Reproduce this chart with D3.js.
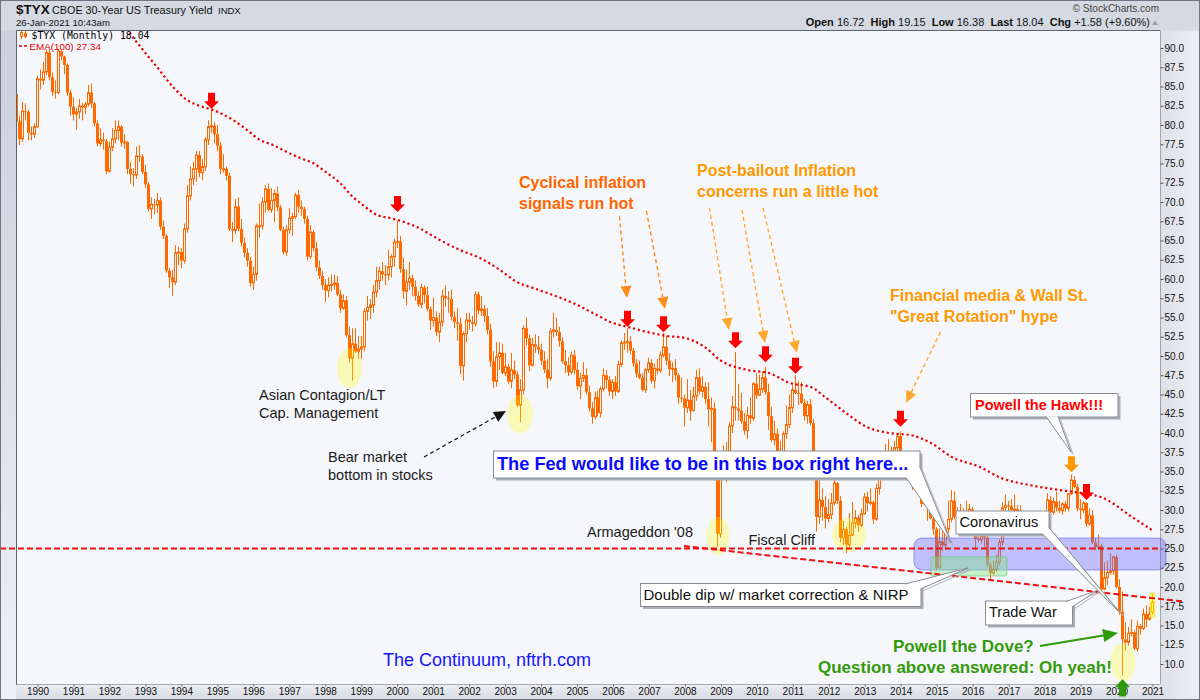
<!DOCTYPE html>
<html>
<head>
<meta charset="utf-8">
<title>$TYX CBOE 30-Year US Treasury Yield</title>
<script src="https://cdn.jsdelivr.net/npm/d3@7/dist/d3.min.js"></script>
<style>
  body { margin: 0; background: #d4d9e2; }
  svg { display: block; font-family: Arial, "Liberation Sans", sans-serif; }
</style>
</head>
<body>
<script>
// frame of the picture
const WIDTH = 1200, HEIGHT = 700;
const PLOT = { left: 16.5, right: 1160, top: 30.5, bottom: 684.5 };
const CANDLE = '#ff6a00', PLOT_BG = '#f6f7fb';

// ---- monthly candles of $TYX (yield x10), first bar = Jun 1989 ----
const FIRST_YEAR = 1989, FIRST_MONTH = 6;
const opens = [
  84.0, 80.4, 78.2, 81.8, 81.7, 79.0, 78.8,
  79.8, 86.0, 85.8, 86.9, 89.4, 86.2, 84.3, 84.2, 89.6, 88.9, 87.8, 84.2,
  82.4, 81.4, 81.7, 82.5, 82.3, 82.7, 84.2, 82.8, 80.2, 77.6, 78.1, 77.9,
  74.0, 77.1, 78.2, 79.3, 79.8, 77.7, 77.8, 74.3, 73.6, 73.5, 76.0, 75.9,
  73.9, 72.3, 69.1, 69.7, 69.6, 70.2, 66.8, 65.6, 61.1, 60.2, 59.6, 63.4,
  63.5, 62.4, 66.5, 70.8, 73.0, 74.3, 76.1, 73.8, 74.6, 78.1, 79.8, 79.9,
  78.8, 77.3, 74.3, 74.3, 73.4, 66.5, 66.3, 69.4, 66.5, 64.7, 63.4, 62.4,
  59.5, 60.6, 66.9, 66.9, 70.0, 71.7, 69.0, 70.2, 71.1, 69.3, 66.4, 63.5,
  66.4, 67.9, 68.1, 70.9, 69.4, 69.1, 67.8, 62.9, 66.1, 64.0, 61.5, 60.4,
  59.2, 58.5, 59.2, 59.3, 59.5, 58.0, 56.2, 57.2, 52.7, 49.7, 51.6, 50.6,
  50.9, 51.2, 55.8, 56.3, 56.6, 58.3, 59.8, 61.0, 60.6, 60.5, 61.6, 62.9,
  64.8, 64.9, 61.3, 58.4, 59.6, 60.1, 59.0, 57.8, 56.7, 58.9, 57.9, 56.1,
  54.6, 55.0, 53.1, 54.4, 57.8, 57.5, 57.4, 55.1, 54.4, 54.2, 48.7, 52.9,
  54.7, 54.4, 54.2, 58.0, 55.9, 56.1, 55.2, 53.4, 49.3, 46.7, 49.9, 50.4,
  47.8, 48.6, 46.7, 48.2, 47.6, 43.6, 45.6, 53.6, 52.3, 48.8, 51.5, 51.2,
  50.8, 49.4, 48.2, 47.1, 53.2, 53.4, 53.1, 51.9, 49.3, 48.8, 47.9, 50.1,
  48.2, 46.1, 47.1, 47.5, 45.3, 43.2, 42.1, 44.6, 42.6, 45.7, 47.5, 46.9,
  45.4, 46.6, 45.4, 48.9, 51.7, 51.8, 51.9, 50.7, 49.0, 47.7, 47.2, 45.6,
  48.2, 49.1, 46.8, 48.4, 48.1, 50.1, 51.2, 49.4, 48.3, 48.4, 47.5, 44.6,
  44.5, 43.3, 44.3, 42.9, 44.8, 47.2, 45.4, 46.0, 44.4, 43.1, 43.2, 34.4,
  26.9, 35.9, 37.1, 35.6, 40.9, 43.4, 43.2, 42.9, 41.5, 40.3, 42.3, 41.9,
  46.4, 44.9, 45.7, 47.2, 45.3, 42.2, 39.1, 39.9, 35.2, 36.9, 39.9, 41.1,
  43.3, 45.6, 45.2, 45.1, 43.9, 42.2, 43.7, 41.3, 36.0, 29.1, 31.3, 30.4,
  28.9, 29.4, 30.9, 33.5, 31.2, 26.4, 27.5, 25.5, 26.7, 28.3, 29.0, 28.0,
  29.5, 31.7, 30.9, 31.0, 28.8, 32.8, 35.0, 36.4, 37.0, 36.8, 36.3, 38.1,
  39.6, 36.0, 35.9, 35.6, 34.6, 33.3, 33.6, 33.1, 30.8, 32.0, 30.6, 28.9,
  27.5, 22.5, 25.9, 25.4, 27.5, 28.8, 31.2, 29.1, 29.5, 28.5, 29.2, 29.8,
  30.1, 27.5, 26.2, 26.1, 26.6, 26.4, 22.9, 21.8, 22.3, 23.2, 25.8, 30.3,
  30.6, 30.5, 30.0, 30.1, 29.6, 28.7, 28.4, 29.0, 27.3, 28.6, 28.8, 28.3,
  27.4, 29.5, 31.3, 29.7, 31.1, 30.3, 29.9, 30.8, 30.2, 32.1, 33.9, 33.0,
  30.2, 30.0, 30.9, 28.2, 29.3, 25.8, 25.2, 25.3, 19.7, 21.2, 21.9, 22.1,
  23.9, 20.0, 16.8, 13.2, 12.8, 14.0, 14.1, 12.0, 14.9, 14.6, 16.5, 15.8,
  16.72
];
const highs = [
  85.4, 81.2, 83.0, 82.8, 82.0, 79.8, 80.2,
  86.4, 87.2, 88.2, 89.8, 89.8, 86.8, 85.8, 89.9, 89.7, 89.0, 88.0, 84.6,
  83.6, 82.2, 83.4, 82.9, 83.0, 85.2, 85.4, 83.0, 80.6, 79.6, 79.0, 78.2,
  77.8, 79.6, 80.6, 80.6, 80.0, 78.8, 77.9, 75.2, 74.4, 77.2, 77.4, 76.2,
  74.8, 72.6, 70.6, 70.4, 71.2, 70.6, 67.6, 65.8, 61.4, 61.2, 64.4, 64.2,
  64.0, 67.2, 72.2, 74.6, 75.2, 76.6, 76.6, 75.6, 78.4, 80.6, 81.9, 80.4,
  80.0, 77.8, 76.2, 74.6, 73.8, 67.4, 70.4, 70.6, 67.8, 65.4, 64.0, 62.8,
  61.6, 67.2, 69.8, 70.6, 72.2, 72.4, 71.8, 71.6, 72.0, 69.6, 66.8, 67.0,
  69.2, 68.6, 71.2, 71.6, 70.2, 69.4, 68.2, 67.0, 66.4, 64.8, 62.4, 61.0,
  60.0, 60.2, 60.6, 60.6, 60.4, 58.6, 58.0, 57.8, 53.8, 53.6, 53.6, 52.6,
  52.6, 56.2, 57.8, 57.4, 59.2, 61.6, 61.6, 62.2, 61.8, 63.8, 63.2, 65.2,
  67.6, 65.6, 62.8, 61.2, 62.2, 60.6, 59.8, 58.4, 59.4, 59.2, 59.0, 56.4,
  57.6, 55.8, 55.6, 58.6, 59.2, 58.4, 58.6, 55.8, 56.2, 55.0, 53.2, 55.6,
  55.6, 55.2, 58.4, 58.4, 57.8, 56.6, 56.2, 54.2, 50.6, 51.8, 51.8, 51.6,
  50.4, 49.0, 50.4, 49.4, 48.0, 47.0, 54.0, 55.0, 52.8, 52.4, 52.8, 52.6,
  51.6, 50.6, 49.6, 53.6, 55.6, 55.0, 53.8, 52.4, 50.8, 49.8, 50.6, 50.8,
  49.2, 47.8, 49.2, 48.4, 46.2, 44.0, 45.4, 45.4, 46.0, 48.4, 48.2, 47.4,
  47.0, 47.4, 49.4, 52.0, 53.0, 53.6, 52.6, 51.0, 49.6, 49.4, 47.8, 48.4,
  49.8, 49.6, 49.0, 49.6, 50.6, 53.0, 52.6, 50.4, 49.2, 49.6, 47.8, 47.2,
  45.0, 47.0, 45.6, 46.0, 48.2, 48.4, 47.4, 46.6, 46.6, 44.6, 44.0, 34.8,
  36.4, 38.4, 38.8, 41.4, 44.8, 50.5, 46.4, 45.2, 42.6, 43.4, 44.6, 46.6,
  47.8, 47.6, 48.0, 48.6, 46.4, 43.4, 41.6, 40.6, 39.0, 40.2, 43.6, 45.0,
  46.2, 47.5, 46.8, 46.6, 44.4, 44.2, 44.4, 41.8, 36.4, 34.0, 32.8, 31.8,
  31.4, 32.2, 34.2, 33.6, 31.8, 28.6, 27.8, 29.6, 31.0, 30.0, 29.4, 30.2,
  32.2, 32.4, 32.8, 31.2, 33.4, 36.2, 37.2, 38.6, 39.2, 38.2, 39.0, 39.9,
  40.2, 37.6, 37.6, 36.8, 34.8, 35.2, 34.4, 33.4, 33.2, 32.4, 31.4, 29.8,
  27.8, 27.6, 27.8, 27.8, 31.2, 32.6, 32.4, 30.4, 30.8, 30.2, 31.2, 30.8,
  30.4, 28.4, 28.0, 27.6, 27.0, 26.6, 23.2, 23.4, 24.2, 26.2, 31.0, 32.0,
  31.2, 31.4, 32.0, 30.6, 30.6, 28.8, 29.6, 29.2, 28.8, 29.4, 29.2, 28.8,
  29.8, 32.2, 31.8, 31.6, 32.4, 31.2, 31.0, 31.2, 32.2, 34.6, 34.4, 33.4,
  31.4, 31.2, 31.0, 30.2, 30.0, 26.4, 26.8, 25.6, 23.2, 23.4, 24.4, 24.0,
  24.2, 21.0, 19.4, 15.4, 14.8, 15.8, 14.4, 15.6, 15.2, 17.2, 17.6, 17.4,
  19.15
];
const lows = [
  79.6, 77.4, 77.8, 80.6, 78.0, 78.0, 78.3,
  79.6, 84.6, 85.2, 86.5, 85.8, 83.8, 83.4, 84.0, 88.4, 86.6, 83.8, 81.2,
  80.6, 79.4, 80.8, 80.6, 81.4, 82.4, 82.2, 79.8, 77.2, 77.2, 76.8, 73.6,
  73.8, 76.6, 77.6, 78.0, 77.2, 76.9, 73.6, 72.4, 72.0, 73.0, 75.2, 73.6,
  71.8, 68.8, 67.8, 68.4, 68.6, 66.4, 65.2, 60.8, 58.8, 57.8, 59.2, 61.8,
  61.4, 62.0, 66.0, 70.2, 72.2, 72.6, 73.2, 72.8, 74.0, 77.4, 79.0, 77.6,
  76.6, 73.6, 73.8, 72.8, 66.2, 64.8, 65.8, 66.2, 64.2, 62.8, 61.6, 59.0,
  58.6, 59.8, 65.4, 66.4, 68.6, 68.8, 68.6, 67.4, 68.8, 66.2, 63.2, 63.0,
  65.8, 65.6, 67.8, 68.6, 68.2, 67.2, 62.4, 62.6, 63.6, 61.0, 60.0, 58.6,
  57.0, 57.6, 58.4, 58.6, 57.8, 55.6, 56.0, 52.4, 49.2, 46.8, 50.4, 49.6,
  49.6, 50.6, 54.6, 54.8, 55.6, 57.6, 58.6, 59.8, 59.2, 59.8, 60.2, 61.6,
  64.0, 60.8, 57.4, 56.6, 58.6, 57.8, 57.2, 56.4, 56.2, 56.8, 55.8, 53.4,
  53.8, 52.6, 51.8, 53.8, 56.4, 55.6, 54.6, 53.6, 52.0, 47.6, 46.8, 51.8,
  53.4, 53.2, 53.8, 55.4, 55.2, 54.4, 52.8, 48.6, 45.8, 46.0, 48.2, 47.6,
  47.4, 46.4, 45.8, 47.0, 43.4, 41.4, 45.0, 51.4, 48.0, 48.6, 50.4, 50.2,
  48.8, 47.8, 45.8, 46.8, 52.4, 52.6, 51.2, 49.0, 47.8, 47.4, 47.6, 47.6,
  45.6, 44.4, 46.6, 45.0, 42.8, 41.2, 41.8, 42.2, 42.0, 45.4, 45.8, 44.8,
  44.4, 44.8, 45.2, 48.6, 50.8, 50.4, 50.2, 48.6, 47.2, 47.0, 45.4, 45.2,
  47.8, 46.4, 45.8, 47.6, 47.8, 49.8, 48.8, 47.4, 46.6, 46.8, 43.8, 44.0,
  40.8, 42.6, 41.6, 42.8, 44.2, 45.0, 44.6, 43.8, 40.8, 38.8, 33.8, 25.2,
  26.4, 34.4, 33.6, 35.2, 40.0, 41.6, 41.6, 41.2, 39.8, 39.2, 41.2, 41.6,
  44.4, 44.8, 45.2, 45.0, 40.4, 38.8, 38.4, 34.6, 34.8, 36.0, 39.2, 40.6,
  42.6, 45.0, 43.6, 43.8, 41.6, 41.2, 41.0, 34.2, 27.2, 28.2, 28.6, 27.6,
  28.4, 28.8, 30.6, 30.8, 25.8, 25.4, 24.4, 25.2, 26.6, 27.6, 27.2, 27.8,
  29.4, 29.8, 30.6, 28.2, 28.6, 32.0, 34.2, 35.8, 36.2, 35.6, 36.0, 37.4,
  35.8, 35.2, 35.2, 34.2, 32.6, 33.0, 32.0, 30.4, 30.6, 28.6, 28.8, 26.8,
  22.2, 22.4, 24.6, 24.8, 26.8, 28.4, 28.8, 27.2, 28.4, 27.8, 29.0, 28.6,
  27.0, 24.8, 25.8, 25.6, 25.2, 22.6, 20.9, 21.6, 22.0, 22.8, 25.4, 29.4,
  29.6, 29.6, 29.6, 28.6, 28.6, 27.2, 28.2, 27.0, 26.6, 28.0, 27.4, 26.8,
  27.2, 29.2, 29.6, 29.4, 29.8, 29.6, 29.4, 29.8, 29.8, 32.0, 32.8, 29.8,
  28.8, 29.6, 27.8, 28.0, 25.6, 24.8, 25.0, 19.0, 19.6, 20.2, 21.6, 21.6,
  19.8, 16.4, 8.5, 11.8, 12.4, 13.6, 11.8, 11.6, 13.8, 14.4, 14.8, 15.6,
  16.38
];
const closes = [
  80.4, 78.2, 81.8, 81.7, 79.0, 78.8, 79.8,
  86.0, 85.8, 86.9, 89.4, 86.2, 84.3, 84.2, 89.6, 88.9, 87.8, 84.2, 82.4,
  81.4, 81.7, 82.5, 82.3, 82.7, 84.2, 82.8, 80.2, 77.6, 78.1, 77.9, 74.0,
  77.1, 78.2, 79.3, 79.8, 77.7, 77.8, 74.3, 73.6, 73.5, 76.0, 75.9, 73.9,
  72.3, 69.1, 69.7, 69.6, 70.2, 66.8, 65.6, 61.1, 60.2, 59.6, 63.4, 63.5,
  62.4, 66.5, 70.8, 73.0, 74.3, 76.1, 73.8, 74.6, 78.1, 79.8, 79.9, 78.8,
  77.3, 74.3, 74.3, 73.4, 66.5, 66.3, 69.4, 66.5, 64.7, 63.4, 62.4, 59.5,
  60.6, 66.9, 66.9, 70.0, 71.7, 69.0, 70.2, 71.1, 69.3, 66.4, 63.5, 66.4,
  67.9, 68.1, 70.9, 69.4, 69.1, 67.8, 62.9, 66.1, 64.0, 61.5, 60.4, 59.2,
  58.5, 59.2, 59.3, 59.5, 58.0, 56.2, 57.2, 52.7, 49.7, 51.6, 50.6, 50.9,
  51.2, 55.8, 56.3, 56.6, 58.3, 59.8, 61.0, 60.6, 60.5, 61.6, 62.9, 64.8,
  64.9, 61.3, 58.4, 59.6, 60.1, 59.0, 57.8, 56.7, 58.9, 57.9, 56.1, 54.6,
  55.0, 53.1, 54.4, 57.8, 57.5, 57.4, 55.1, 54.4, 54.2, 48.7, 52.9, 54.7,
  54.4, 54.2, 58.0, 55.9, 56.1, 55.2, 53.4, 49.3, 46.7, 49.9, 50.4, 47.8,
  48.6, 46.7, 48.2, 47.6, 43.6, 45.6, 53.6, 52.3, 48.8, 51.5, 51.2, 50.8,
  49.4, 48.2, 47.1, 53.2, 53.4, 53.1, 51.9, 49.3, 48.8, 47.9, 50.1, 48.2,
  46.1, 47.1, 47.5, 45.3, 43.2, 42.1, 44.6, 42.6, 45.7, 47.5, 46.9, 45.4,
  46.6, 45.4, 48.9, 51.7, 51.8, 51.9, 50.7, 49.0, 47.7, 47.2, 45.6, 48.2,
  49.1, 46.8, 48.4, 48.1, 50.1, 51.2, 49.4, 48.3, 48.4, 47.5, 44.6, 44.5,
  43.3, 44.3, 42.9, 44.8, 47.2, 45.4, 46.0, 44.4, 43.1, 43.2, 34.4, 26.9,
  35.9, 37.1, 35.6, 40.9, 43.4, 43.2, 42.9, 41.5, 40.3, 42.3, 41.9, 46.4,
  44.9, 45.7, 47.2, 45.3, 42.2, 39.1, 39.9, 35.2, 36.9, 39.9, 41.1, 43.3,
  45.6, 45.2, 45.1, 43.9, 42.2, 43.7, 41.3, 36.0, 29.1, 31.3, 30.4, 28.9,
  29.4, 30.9, 33.5, 31.2, 26.4, 27.5, 25.5, 26.7, 28.3, 29.0, 28.0, 29.5,
  31.7, 30.9, 31.0, 28.8, 32.8, 35.0, 36.4, 37.0, 36.8, 36.3, 38.1, 39.6,
  36.0, 35.9, 35.6, 34.6, 33.3, 33.6, 33.1, 30.8, 32.0, 30.6, 28.9, 27.5,
  22.5, 25.9, 25.4, 27.5, 28.8, 31.2, 29.1, 29.5, 28.5, 29.2, 29.8, 30.1,
  27.5, 26.2, 26.1, 26.6, 26.4, 22.9, 21.8, 22.3, 23.2, 25.8, 30.3, 30.6,
  30.5, 30.0, 30.1, 29.6, 28.7, 28.4, 29.0, 27.3, 28.6, 28.8, 28.3, 27.4,
  29.5, 31.3, 29.7, 31.1, 30.3, 29.9, 30.8, 30.2, 32.1, 33.9, 33.0, 30.2,
  30.0, 30.9, 28.2, 29.3, 25.8, 25.2, 25.3, 19.7, 21.2, 21.9, 22.1, 23.9,
  20.0, 16.8, 13.2, 12.8, 14.0, 14.1, 12.0, 14.9, 14.6, 16.5, 15.8, 16.46,
  18.04
];

// EMA(100): decimal year / value
const emaYears = [1992.35, 1992.516, 1992.933, 1993.322, 1993.767, 1994.156, 1994.601, 1994.879, 1995.435, 1995.824,
  1996.186, 1996.547, 1996.936, 1997.298, 1997.659, 1998.048, 1998.410, 1998.771, 1999.049, 1999.438,
  1999.800, 2000.551, 2001.190, 2001.746, 2002.302, 2002.858, 2003.331, 2003.776, 2004.332, 2004.888,
  2005.444, 2006.000, 2006.417, 2006.946, 2007.502, 2008.002, 2008.586, 2008.975, 2009.753, 2010.337,
  2010.921, 2011.505, 2011.894, 2012.478, 2013.062, 2013.674, 2014.258, 2014.841, 2015.425, 2016.204,
  2016.788, 2017.566, 2018.400, 2019.180, 2019.540, 2020.460, 2021.000];
const emaValues = [93.7, 92.34, 89.74, 87.53, 84.94, 83.25, 82.34, 81.95, 80.65, 79.35,
  78.05, 77.40, 76.49, 75.71, 75.06, 73.77, 72.47, 70.65, 69.61, 68.31,
  67.92, 66.75, 65.06, 63.77, 62.73, 61.17, 59.61, 58.83, 57.92, 56.88,
  55.58, 54.29, 53.77, 53.12, 52.60, 52.34, 51.04, 49.48, 48.18, 47.79,
  46.49, 45.97, 44.68, 42.60, 40.78, 40.00, 39.74, 38.70, 36.88, 35.58,
  34.16, 33.25, 32.60, 32.08, 31.73, 29.0, 27.34];

const yearTicks = d3.range(1990, 2022);
const yTicks = d3.range(10, 90.01, 2.5);

// drawn annotations pinned to the data
const redArrowMonths = ['1994-11', '2000-01', '2006-06', '2007-06', '2009-06', '2010-04', '2011-02', '2014-01', '2019-03'];
const redArrowTips = [82.1, 68.7, 53.8, 53.1, 51.0, 49.2, 47.7, 40.8, 31.3];
const hawkArrowMonth = '2018-10', hawkArrowTip = 34.9;
const doveArrowMonth = '2020-03';
const circleYears = [1998.674, 2003.414, 2008.919, 2012.561, 2020.178];
const circleValues = [48.44, 42.47, 26.62, 26.75, 10.26];
const fedZone = { from: 2014.368, to: 2021.374, low: 22.21, high: 26.36 };
const dipZone = { from: 2014.84, to: 2016.953, low: 21.43, high: 23.90 };
const supportLevel = 25.0;
const trendFrom = [2007.973, 25.32], trendTo = [2021.846, 18.12];

const quote = [['Open', '16.72'], ['High', '19.15'], ['Low', '16.38'], ['Last', '18.04'], ['Chg', '+1.58 (+9.60%)']];

// ---- scales ----
const monthPos = s => { const [yy, mm] = s.split('-').map(Number); return yy + (mm - 1) / 12; };
const x = d3.scaleLinear().domain([1990, 2021]).range([37.5, 1152.5]);
const y = d3.scaleLinear().domain([10, 90]).range([664, 48]);
const px = t => Math.floor(x(t)) + 0.5;

const bars = closes.map((c, i) => ({
  t: FIRST_YEAR + (FIRST_MONTH - 1 + i) / 12,
  o: opens[i], h: highs[i], l: lows[i], c
}));

const svg = d3.select('body').append('svg')
  .attr('width', WIDTH).attr('height', HEIGHT);
const defs = svg.append('defs');

const gradient = (id, x2, y2, stops) => {
  const g = defs.append('linearGradient').attr('id', id)
    .attr('x1', 0).attr('y1', 0).attr('x2', x2).attr('y2', y2);
  stops.forEach(([o, c]) => g.append('stop').attr('offset', o).attr('stop-color', c));
};
gradient('left-strip', 0, 1, [[0, '#c9d0db'], [1, '#eef1f5']]);
gradient('bottom-band', 0, 1, [[0, '#eceef2'], [1, '#d6dbe3']]);
gradient('right-band', 1, 0, [[0, '#dde1e8'], [1, '#eceef2']]);

defs.append('clipPath').attr('id', 'plot-clip')
  .append('rect').attr('x', PLOT.left + 0.5).attr('y', PLOT.top + 0.5)
  .attr('width', PLOT.right - PLOT.left - 0.5).attr('height', PLOT.bottom - PLOT.top - 1);

// ---- backgrounds ----
svg.append('rect').attr('width', WIDTH).attr('height', HEIGHT).attr('fill', '#d4d9e2');
svg.append('rect').attr('x', 1).attr('y', PLOT.top).attr('width', 15.5).attr('height', HEIGHT - PLOT.top - 1).attr('fill', 'url(#left-strip)');
svg.append('rect').attr('x', PLOT.left).attr('y', PLOT.bottom).attr('width', PLOT.right - PLOT.left).attr('height', HEIGHT - PLOT.bottom - 1).attr('fill', 'url(#bottom-band)');
svg.append('rect').attr('x', PLOT.right).attr('y', PLOT.top).attr('width', WIDTH - PLOT.right - 1).attr('height', HEIGHT - PLOT.top - 1).attr('fill', 'url(#right-band)');
svg.append('rect').attr('x', PLOT.left).attr('y', PLOT.top).attr('width', PLOT.right - PLOT.left).attr('height', PLOT.bottom - PLOT.top).attr('fill', PLOT_BG);

// ---- candles ----
const barG = svg.append('g').attr('clip-path', 'url(#plot-clip)');
barG.selectAll('line.wick').data(bars).join('line')
  .attr('class', 'wick')
  .attr('x1', d => px(d.t)).attr('x2', d => px(d.t))
  .attr('y1', d => y(d.h)).attr('y2', d => y(d.l))
  .attr('stroke', CANDLE).attr('stroke-width', 1);
barG.selectAll('rect.body').data(bars).join('rect')
  .attr('class', 'body')
  .attr('x', d => d.c >= d.o ? px(d.t) - 1 : px(d.t) - 1.5)
  .attr('width', d => d.c >= d.o ? 2 : 3)
  .attr('y', d => y(Math.max(d.o, d.c)))
  .attr('height', d => Math.max(y(Math.min(d.o, d.c)) - y(Math.max(d.o, d.c)), 1))
  .attr('fill', d => d.c >= d.o ? PLOT_BG : CANDLE)
  .attr('stroke', d => d.c >= d.o ? CANDLE : 'none');

// last bar highlight
const last = bars[bars.length - 1];
barG.append('rect')
  .attr('x', px(last.t) - 2.5).attr('y', y(last.h) - 0.5)
  .attr('width', 5).attr('height', y(last.l) - y(last.h) + 3)
  .attr('fill', 'rgba(255,255,0,0.55)').attr('stroke', 'rgba(230,200,0,0.6)').attr('stroke-width', 0.6);

// ---- highlights ----
const over = svg.append('g');
const circleRadii = [[12.5, 20], [13, 19], [11.5, 19], [17, 17], [12.5, 19]];
over.selectAll('ellipse').data(circleYears).join('ellipse')
  .attr('cx', d => x(d)).attr('cy', (d, i) => y(circleValues[i]))
  .attr('rx', (d, i) => circleRadii[i][0]).attr('ry', (d, i) => circleRadii[i][1])
  .attr('fill', 'rgba(255,255,0,0.27)');

over.append('rect')
  .attr('x', x(fedZone.from)).attr('y', y(fedZone.high))
  .attr('width', x(fedZone.to) - x(fedZone.from)).attr('height', y(fedZone.low) - y(fedZone.high))
  .attr('rx', 8).attr('fill', 'rgba(100,100,255,0.38)').attr('stroke', 'rgba(90,90,240,0.55)');
over.append('rect')
  .attr('x', x(dipZone.from)).attr('y', y(dipZone.high))
  .attr('width', x(dipZone.to) - x(dipZone.from)).attr('height', y(dipZone.low) - y(dipZone.high))
  .attr('rx', 2).attr('fill', 'rgba(130,230,130,0.42)').attr('stroke', 'rgba(100,200,100,0.6)');

// ---- lines ----
const ema = d3.line().x(d => x(d[0])).y(d => y(d[1])).curve(d3.curveMonotoneX);
svg.append('path').attr('clip-path', 'url(#plot-clip)')
  .attr('d', ema(emaYears.map((t, i) => [t, emaValues[i]])))
  .attr('fill', 'none').attr('stroke', '#e80000').attr('stroke-width', 2.2)
  .attr('stroke-dasharray', '2.2,2.8');

svg.append('line')
  .attr('x1', 0).attr('x2', PLOT.right).attr('y1', y(supportLevel)).attr('y2', y(supportLevel))
  .attr('stroke', '#ee1111').attr('stroke-width', 2).attr('stroke-dasharray', '6,3');
svg.append('line')
  .attr('x1', x(trendFrom[0])).attr('y1', y(trendFrom[1]))
  .attr('x2', x(trendTo[0])).attr('y2', y(trendTo[1]))
  .attr('stroke', '#ee1111').attr('stroke-width', 2).attr('stroke-dasharray', '6,3');

// ---- axes ----
const yAxis = d3.axisRight(y).tickValues(yTicks).tickFormat(d3.format('.1f'))
  .tickSize(3).tickSizeOuter(0).tickPadding(1);
const yAxisG = svg.append('g').attr('transform', `translate(${PLOT.right + 0.5},0)`).call(yAxis);
yAxisG.select('.domain').remove();
yAxisG.selectAll('.tick line').attr('stroke', '#555');
yAxisG.selectAll('.tick text').attr('font-size', 10).attr('fill', '#111').attr('font-family', 'Arial, "Liberation Sans", sans-serif');
svg.append('line').attr('x1', PLOT.right + 0.5).attr('x2', PLOT.right + 0.5)
  .attr('y1', PLOT.top).attr('y2', PLOT.bottom)
  .attr('stroke', '#666').attr('stroke-dasharray', '1,1');

const xAxis = d3.axisBottom(x).tickValues(yearTicks).tickFormat(d3.format('d'))
  .tickSize(2).tickSizeOuter(0).tickPadding(1);
const xAxisG = svg.append('g').attr('transform', `translate(0,${PLOT.bottom})`).call(xAxis);
xAxisG.select('.domain').remove();
xAxisG.selectAll('.tick line').attr('stroke', '#666');
xAxisG.selectAll('.tick text').attr('font-size', 10).attr('fill', '#111').attr('font-family', 'Arial, "Liberation Sans", sans-serif');
svg.append('line').attr('x1', PLOT.left).attr('x2', PLOT.right)
  .attr('y1', PLOT.bottom).attr('y2', PLOT.bottom)
  .attr('stroke', '#666').attr('stroke-dasharray', '1,1');

// plot frame
svg.append('path').attr('d', `M${PLOT.left},${PLOT.bottom}V${PLOT.top}H${PLOT.right}`)
  .attr('fill', 'none').attr('stroke', '#5c6470');
svg.append('rect').attr('x', 0.5).attr('y', 0.5).attr('width', WIDTH - 1).attr('height', HEIGHT - 1)
  .attr('fill', 'none').attr('stroke', '#6e7684');

// ---- block arrows ----
const BLOCK_ARROW = 'M-3.5,-16H3.5V-7.5H7.5L0,0L-7.5,-7.5H-3.5Z';
svg.selectAll('path.red-arrow').data(redArrowMonths).join('path')
  .attr('class', 'red-arrow').attr('d', BLOCK_ARROW)
  .attr('transform', (d, i) => `translate(${px(monthPos(d))},${y(redArrowTips[i])})`)
  .attr('fill', '#ff0000');
svg.append('path').attr('d', BLOCK_ARROW)
  .attr('transform', `translate(${px(monthPos(hawkArrowMonth))},${y(hawkArrowTip)})`)
  .attr('fill', '#ff9900');
svg.append('path').attr('d', BLOCK_ARROW)
  .attr('transform', `translate(${px(monthPos(doveArrowMonth))},679) scale(1,-1.1)`)
  .attr('fill', '#2f9a0a');

// ---- pointer arrows ----
function pointer(g, from, to, color, dash, width, len = 12, half = 5.5) {
  const a = Math.atan2(to[1] - from[1], to[0] - from[0]);
  const bx = to[0] - len * Math.cos(a), by = to[1] - len * Math.sin(a);
  const ox = -Math.sin(a) * half, oy = Math.cos(a) * half;
  g.append('line').attr('x1', from[0]).attr('y1', from[1]).attr('x2', bx).attr('y2', by)
    .attr('stroke', color).attr('stroke-width', width).attr('stroke-dasharray', dash);
  g.append('path').attr('d', `M${to[0]},${to[1]}L${bx + ox},${by + oy}L${bx - ox},${by - oy}Z`)
    .attr('fill', color);
}
const ptr = svg.append('g');
pointer(ptr, [619.5, 216.5], [627, 298], '#ff8a1e', '4,3', 1.4);
pointer(ptr, [646.5, 211], [665, 309], '#ff8a1e', '4,3', 1.4);
pointer(ptr, [709.5, 208], [729, 330], '#ffa830', '4,3', 1.4);
pointer(ptr, [742, 210], [765, 343], '#ffa830', '4,3', 1.4);
pointer(ptr, [763, 208], [797, 353], '#ffa830', '4,3', 1.4);
pointer(ptr, [940.5, 332], [906, 403], '#ffa830', '4,3', 1.4);
pointer(ptr, [424, 457], [506, 411], '#111', '4,3', 1.2);
pointer(ptr, [1040, 646], [1118, 633], '#2f9a0a', null, 2, 15, 6.5);

// ---- callout boxes ----
function callout(box, tip, label, font) {
  const [bx, by, bw, bh] = box;
  const g = svg.append('g');
  const tri = `M${tip[0][0]},${tip[0][1]}L${tip[2][0]},${tip[2][1]}L${tip[1][0]},${tip[1][1]}`;
  g.append('rect').attr('x', bx + 2.5).attr('y', by + 2.5).attr('width', bw).attr('height', bh).attr('fill', '#a9adb5');
  g.append('path').attr('d', tri).attr('transform', 'translate(2,2)').attr('fill', 'none').attr('stroke', '#b0b4bb');
  g.append('rect').attr('x', bx).attr('y', by).attr('width', bw).attr('height', bh)
    .attr('fill', '#fff').attr('stroke', '#8a8d93');
  g.append('path').attr('d', tri).attr('fill', '#fff').attr('stroke', '#8a8d93');
  g.append('text').attr('x', font.x).attr('y', font.y).text(label)
    .attr('font-size', font.size).attr('font-weight', font.weight || 'normal').attr('fill', font.color || '#111');
}
callout([493.5, 451, 426.5, 27], [[906, 477.5], [919.5, 466], [951, 543]],
  'The Fed would like to be in this box right here...', { x: 497, y: 470, size: 18.2, weight: 'bold', color: '#0a0aff' });
callout([970.5, 393.5, 147.5, 23.5], [[1046, 416.5], [1058, 416.5], [1071, 452]],
  'Powell the Hawk!!!', { x: 975, y: 410, size: 14.5, weight: 'bold', color: '#ff0000' });
callout([956, 511, 93, 23], [[1042, 533.5], [1048.5, 527], [1121, 614]],
  'Coronavirus', { x: 959.5, y: 527, size: 14.6 });
callout([985.5, 601, 87, 24], [[1066, 601.5], [1072, 607], [1097, 590.5]],
  'Trade War', { x: 989, y: 617, size: 14.6 });
callout([640.5, 583.5, 280.5, 23], [[905, 584], [920.5, 589], [968, 568]],
  'Double dip w/ market correction & NIRP', { x: 643.5, y: 599.5, size: 15 });

// ---- free text notes ----
const note = (txt, tx, ty, size, color, weight) => svg.append('text')
  .attr('x', tx).attr('y', ty).text(txt)
  .attr('font-size', size).attr('fill', color).attr('font-weight', weight || 'normal');
note('Asian Contagion/LT', 259, 400, 14.5, '#1a1a1a');
note('Cap. Management', 259, 418, 14.5, '#1a1a1a');
note('Bear market', 328, 462, 14.5, '#1a1a1a');
note('bottom in stocks', 328, 480, 14.5, '#1a1a1a');
note('Armageddon \'08', 587, 537, 14.5, '#1a1a1a');
note('Fiscal Cliff', 748.5, 545, 14.5, '#1a1a1a');
note('Cyclical inflation', 519, 188, 16, '#ff6600', 'bold');
note('signals run hot', 519, 209, 16, '#ff6600', 'bold');
note('Post-bailout Inflation', 697, 176, 16, '#ff9900', 'bold');
note('concerns run a little hot', 697, 197, 16, '#ff9900', 'bold');
note('Financial media & Wall St.', 890, 301, 16, '#ff9900', 'bold');
note('"Great Rotation" hype', 890, 322, 16, '#ff9900', 'bold');
note('Powell the Dove?', 893, 652, 17, '#339a0c', 'bold');
note('Question above answered: Oh yeah!', 818, 673, 17, '#339a0c', 'bold');
note('The Continuum, nftrh.com', 383, 666, 18, '#1414ff');

// ---- header ----
svg.append('text').attr('x', 16).attr('y', 13.5).text('$TYX')
  .attr('font-size', 13.5).attr('font-weight', 'bold').attr('fill', '#111');
svg.append('text').attr('x', 52).attr('y', 13.5).text('CBOE 30-Year US Treasury Yield')
  .attr('font-size', 10.8).attr('fill', '#111');
svg.append('text').attr('x', 218).attr('y', 13.5).text('INDX')
  .attr('font-size', 9.5).attr('fill', '#111');
svg.append('text').attr('x', 16).attr('y', 26).text('26-Jan-2021 10:43am')
  .attr('font-size', 9.6).attr('fill', '#111');
svg.append('text').attr('x', 1159).attr('y', 12).attr('text-anchor', 'end').text('© StockCharts.com')
  .attr('font-size', 10).attr('fill', '#444');

const quoteText = svg.append('text').attr('x', 1150).attr('y', 26).attr('text-anchor', 'end')
  .attr('font-size', 11).attr('fill', '#111');
quote.forEach(([k, v], i) => {
  quoteText.append('tspan').attr('font-weight', 'bold').text((i ? '  ' : '') + k + ' ');
  quoteText.append('tspan').text(v);
});
quoteText.attr('xml:space', 'preserve');
svg.append('path').attr('d', 'M1152,25L1158,25L1155,20.5Z').attr('fill', '#9a9ea6');

// legend
const leg = svg.append('g');
leg.append('line').attr('x1', 21.5).attr('x2', 21.5).attr('y1', 31).attr('y2', 39).attr('stroke', CANDLE);
leg.append('rect').attr('x', 20.5).attr('y', 32.5).attr('width', 2).attr('height', 4).attr('fill', PLOT_BG).attr('stroke', CANDLE);
leg.append('line').attr('x1', 25.5).attr('x2', 25.5).attr('y1', 31).attr('y2', 38).attr('stroke', CANDLE);
leg.append('rect').attr('x', 24).attr('y', 33).attr('width', 3).attr('height', 4).attr('fill', CANDLE);
leg.append('text').attr('x', 31.5).attr('y', 38.5).text('$TYX (Monthly) 18.04')
  .attr('font-family', '"DejaVu Sans Mono", monospace').attr('font-size', 9.8).attr('fill', '#000');
leg.append('line').attr('x1', 19).attr('x2', 28).attr('y1', 46).attr('y2', 46)
  .attr('stroke', '#e80000').attr('stroke-width', 1.6).attr('stroke-dasharray', '3,2');
leg.append('text').attr('x', 29.5).attr('y', 49.5).text('EMA(100) 27.34')
  .attr('font-size', 9.8).attr('fill', '#e80000');
</script>
</body>
</html>
